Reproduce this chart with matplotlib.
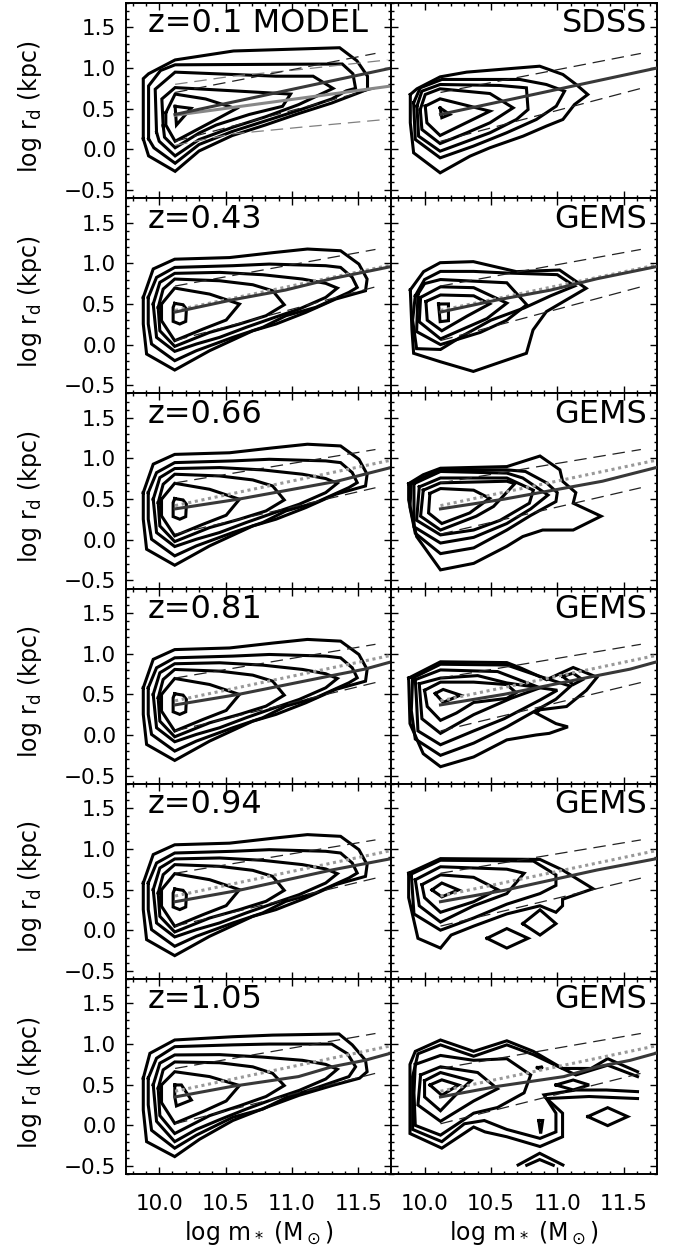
import matplotlib.pyplot as plt
from matplotlib.ticker import MultipleLocator

plt.rcParams['font.family'] = ['DejaVu Sans']
plt.rcParams['mathtext.fontset'] = 'dejavusans'

# redshift bins and panel labels
redshifts = ["0.1", "0.43", "0.66", "0.81", "0.94", "1.05"]
survey = ["SDSS", "GEMS", "GEMS", "GEMS", "GEMS", "GEMS"]

# model median size-mass relation in each bin
med_x = [
    [10.12, 11.75],
    [10.12, 10.55, 10.95, 11.30, 11.75],
    [10.12, 10.60, 11.34, 11.75],
    [10.12, 10.60, 11.30, 11.55, 11.75],
    [10.12, 10.60, 11.30, 11.75],
    [10.12, 10.55, 11.05, 11.30, 11.55, 11.75],
]
med_y = [
    [0.43, 1.00],
    [0.40, 0.55, 0.67, 0.81, 0.96],
    [0.38, 0.50, 0.72, 0.89],
    [0.37, 0.50, 0.73, 0.81, 0.90],
    [0.35, 0.49, 0.74, 0.88],
    [0.35, 0.48, 0.60, 0.72, 0.80, 0.89],
]
# 16th / 84th percentile envelopes
env_x = [10.12, 11.63]
env_hi = [[0.70, 1.18], [0.72, 1.17], [0.70, 1.11], [0.70, 1.115], [0.70, 1.11], [0.70, 1.13]]
env_lo = [[0.10, 0.75], [0.05, 0.71], [0.07, 0.64], [0.05, 0.645], [0.05, 0.64], [0.02, 0.64]]

# z=0.1 model median, repeated at higher redshift
ref_x = [10.12, 11.75]
ref_y = [0.42, 0.98]

# SDSS fit shown on the z=0.1 model panel
sdss_fit_x = [10.12, 11.75]
sdss_fit_y = [0.42, 0.78]
sdss_hi_x = [10.12, 10.55, 11.05, 11.72]
sdss_hi_y = [0.80, 0.90, 0.98, 1.10]
sdss_lo_x = [10.12, 10.55, 11.05, 11.72]
sdss_lo_y = [0.05, 0.19, 0.27, 0.37]

# number-density contours (closed loops), model z=0.1
model_z01 = [
    [(9.88, 0.13), (9.88, 0.87), (9.92, 0.93), (10.12, 1.10), (10.56, 1.21), (11.36, 1.25), (11.49, 1.09),
     (11.57, 0.90), (11.57, 0.74), (11.51, 0.70), (11.30, 0.57), (11.05, 0.44), (10.80, 0.30), (10.55, 0.17),
     (10.30, -0.02), (10.12, -0.27), (9.92, -0.08)],
    [(9.92, 0.13), (9.92, 0.78), (10.01, 0.97), (10.12, 1.04), (11.38, 1.05), (11.46, 0.93), (11.48, 0.75),
     (11.41, 0.72), (11.30, 0.62), (11.05, 0.48), (10.80, 0.35), (10.55, 0.22), (10.30, 0.06), (10.12, -0.17),
     (9.96, 0.02)],
    [(9.98, 0.21), (9.97, 0.74), (10.12, 0.95), (10.88, 0.90), (11.16, 0.90), (11.31, 0.75), (11.05, 0.55),
     (10.80, 0.40), (10.55, 0.27), (10.30, 0.12), (10.12, -0.08), (10.00, 0.10)],
    [(10.03, 0.29), (10.02, 0.62), (10.12, 0.76), (10.56, 0.72), (10.99, 0.68), (10.93, 0.53), (10.68, 0.43),
     (10.43, 0.30), (10.30, 0.20), (10.12, 0.02), (10.04, 0.15)],
    [(10.05, 0.45), (10.12, 0.68), (10.35, 0.62), (10.58, 0.50), (10.42, 0.36), (10.12, 0.10), (10.05, 0.30)],
    [(10.12, 0.53), (10.24, 0.505), (10.13, 0.30)],
]

# model contours for the intermediate-redshift bins
model_hiz = [
    [(9.88, 0.58), (9.955, 0.93), (10.117, 1.05), (10.53, 1.07), (10.855, 1.13), (11.117, 1.175),
     (11.367, 1.154), (11.505, 0.99), (11.567, 0.806), (11.555, 0.662), (11.33, 0.56), (11.105, 0.396),
     (10.88, 0.253), (10.705, 0.17), (10.38, -0.075), (10.117, -0.313), (9.905, -0.116), (9.88, 0.253)],
    [(9.9175, 0.58), (9.98, 0.826), (10.117, 0.949), (10.555, 0.97), (10.83, 0.99), (11.255, 0.97),
     (11.367, 0.949), (11.455, 0.826), (11.4925, 0.703), (11.43, 0.642), (11.18, 0.458), (10.955, 0.355),
     (10.78, 0.212), (10.555, 0.089), (10.28, -0.075), (10.117, -0.198), (9.9425, 0.007), (9.9175, 0.253)],
    [(9.955, 0.498), (10.005, 0.765), (10.117, 0.876), (10.455, 0.888), (10.78, 0.859), (11.08, 0.806),
     (11.255, 0.753), (11.3425, 0.695), (11.255, 0.58), (11.055, 0.437), (10.855, 0.326), (10.655, 0.212),
     (10.455, 0.089), (10.28, 0.007), (10.117, -0.083), (9.98, 0.089)],
    [(9.9925, 0.457), (10.03, 0.683), (10.117, 0.806), (10.455, 0.785), (10.705, 0.736), (10.855, 0.662),
     (10.9425, 0.49), (10.805, 0.355), (10.605, 0.253), (10.38, 0.15), (10.117, -0.022), (10.005, 0.17)],
    [(10.0175, 0.498), (10.117, 0.695), (10.38, 0.621), (10.605, 0.498), (10.505, 0.302), (10.33, 0.191),
     (10.117, 0.048), (10.0175, 0.294)],
    [(10.117, 0.507), (10.18, 0.49), (10.205, 0.437), (10.2, 0.285), (10.155, 0.253), (10.105, 0.285),
     (10.105, 0.457)],
]

# model contours, z=1.05 (flatter top, longer low-size tail)
model_z105 = [
    [(9.88, 0.58), (9.93, 0.886), (10.117, 1.05), (10.555, 1.09), (10.855, 1.11), (11.355, 1.124),
     (11.455, 0.99), (11.555, 0.80), (11.567, 0.66), (11.51, 0.58), (11.305, 0.49), (11.055, 0.37),
     (10.805, 0.22), (10.555, 0.06), (10.305, -0.17), (10.117, -0.384), (9.905, -0.20), (9.88, 0.19)],
    [(9.9175, 0.58), (9.98, 0.826), (10.117, 0.968), (10.555, 0.99), (10.83, 1.00), (11.30, 1.00),
     (11.42, 0.88), (11.48, 0.72), (11.43, 0.60), (11.18, 0.46), (10.955, 0.34),
     (10.78, 0.20), (10.555, 0.10), (10.28, -0.12), (10.117, -0.28), (9.9425, -0.06), (9.9175, 0.253)],
    [(9.955, 0.498), (10.005, 0.765), (10.117, 0.866), (10.455, 0.87), (10.78, 0.84), (11.08, 0.80),
     (11.255, 0.75), (11.3425, 0.69), (11.255, 0.57), (11.055, 0.43), (10.855, 0.32), (10.655, 0.20),
     (10.455, 0.07), (10.28, -0.05), (10.117, -0.20), (9.98, 0.05)],
    [(9.9925, 0.457), (10.03, 0.683), (10.117, 0.78), (10.455, 0.77), (10.705, 0.72), (10.855, 0.64),
     (10.9425, 0.49), (10.805, 0.355), (10.605, 0.24), (10.38, 0.12), (10.117, -0.10), (10.005, 0.12)],
    [(10.0175, 0.498), (10.117, 0.66), (10.38, 0.60), (10.605, 0.49), (10.505, 0.30), (10.33, 0.17),
     (10.117, 0.025), (10.0175, 0.28)],
    [(10.1175, 0.497), (10.1675, 0.497), (10.2425, 0.312), (10.13, 0.239), (10.1175, 0.35)],
]

sdss = [
    [(9.8925, 0.675), (9.9425, 0.745), (10.1175, 0.892), (10.3175, 0.95), (10.8675, 1.023), (11.0425, 0.921),
     (11.1425, 0.798), (11.23, 0.675), (11.13, 0.552), (11.0425, 0.368), (10.9175, 0.286), (10.7425, 0.163),
     (10.4925, 0.02), (10.3425, -0.083), (10.1175, -0.288), (9.9175, -0.042), (9.8925, 0.327)],
    [(9.9175, 0.573), (9.9675, 0.757), (10.13, 0.86), (10.7175, 0.86), (10.9175, 0.798), (11.055, 0.716),
     (10.9925, 0.532), (10.8425, 0.368), (10.6175, 0.204), (10.3675, 0.04), (10.1175, -0.104), (9.93, 0.122)],
    [(9.9425, 0.532), (9.98, 0.716), (10.117, 0.798), (10.5675, 0.786), (10.7675, 0.757), (10.78, 0.49),
     (10.6925, 0.368), (10.4925, 0.204), (10.117, -0.022), (9.955, 0.163)],
    [(9.9675, 0.49), (10.005, 0.675), (10.117, 0.745), (10.4925, 0.687), (10.6675, 0.511), (10.4925, 0.327),
     (10.3175, 0.204), (10.117, 0.072), (9.98, 0.245)],
    [(10.005, 0.532), (10.117, 0.622), (10.4925, 0.47), (10.117, 0.171), (10.0175, 0.327)],
    [(10.117, 0.51), (10.19, 0.43), (10.13, 0.39)],
]

gems_z043 = [
    [(9.8925, 0.672), (9.9925, 0.897), (10.1175, 1.007), (10.3675, 1.02), (10.6925, 0.897), (11.0175, 0.917),
     (11.2175, 0.692), (10.9175, 0.405), (10.8175, 0.18), (10.7675, -0.107), (10.60, -0.20), (10.3675, -0.33),
     (10.1175, -0.21), (9.9175, -0.107), (9.905, 0.18)],
    [(9.93, 0.60), (10.0, 0.80), (10.12, 0.90), (10.37, 0.90), (10.62, 0.88), (11.0, 0.86), (11.13, 0.72),
     (10.95, 0.60), (10.75, 0.45), (10.5, 0.30), (10.3, 0.12), (10.12, -0.06), (9.94, -0.05), (9.91, 0.30)],
    [(9.95, 0.62), (10.0, 0.75), (10.12, 0.80), (10.62, 0.76), (10.77, 0.49), (10.62, 0.30), (10.42, 0.15),
     (10.12, 0.00), (9.94, 0.16)],
    [(9.97, 0.58), (10.12, 0.71), (10.37, 0.70), (10.62, 0.51), (10.47, 0.32), (10.12, 0.07), (9.96, 0.28)],
    [(10.01, 0.53), (10.12, 0.61), (10.37, 0.60), (10.49, 0.50), (10.32, 0.35), (10.13, 0.17), (10.02, 0.30)],
    [(10.105, 0.499), (10.18, 0.50), (10.18, 0.294), (10.1175, 0.282)],
]

gems_z066 = [
    [(9.88, 0.69), (9.99, 0.80), (10.12, 0.88), (10.62, 0.90), (10.87, 1.03), (11.02, 0.86), (11.04, 0.72),
     (11.14, 0.58), (11.12, 0.45), (11.33, 0.29), (11.12, 0.12), (10.89, 0.12), (10.74, 0.04), (10.62, -0.08),
     (10.37, -0.29), (10.12, -0.37), (9.94, 0.04), (9.88, 0.49)],
    [(9.90, 0.70), (10.12, 0.86), (10.62, 0.86), (10.76, 0.84), (10.92, 0.70), (11.0, 0.58),
     (10.99, 0.47), (10.80, 0.30), (10.62, 0.12), (10.37, -0.10), (10.12, -0.17),
     (9.93, 0.08), (9.89, 0.40)],
    [(9.92, 0.69), (10.12, 0.84), (10.62, 0.82), (10.74, 0.76), (10.93, 0.55), (10.80, 0.38), (10.62, 0.20),
     (10.37, 0.03), (10.12, -0.04), (9.92, 0.16)],
    [(9.96, 0.65), (10.12, 0.76), (10.62, 0.76), (10.82, 0.61), (10.79, 0.45), (10.57, 0.24), (10.37, 0.12),
     (10.12, 0.06), (9.94, 0.24)],
    [(9.99, 0.61), (10.12, 0.70), (10.62, 0.72), (10.68, 0.69), (10.52, 0.41), (10.39, 0.29), (10.12, 0.12),
     (9.97, 0.29)],
    [(10.04, 0.57), (10.12, 0.63), (10.37, 0.61), (10.49, 0.51), (10.34, 0.33), (10.13, 0.20), (10.03, 0.33)],
]

gems_z081 = [
    [(9.88, 0.70), (10.12, 0.90), (10.62, 0.89), (10.73, 0.82), (10.92, 0.68), (11.12, 0.83), (11.30, 0.71),
     (11.22, 0.55), (11.07, 0.35), (10.87, 0.31), (10.84, 0.27), (10.99, 0.14), (11.08, 0.10), (10.94, 0.02),
     (10.84, 0.0), (10.62, -0.06), (10.37, -0.27), (10.12, -0.39), (9.99, -0.23), (9.89, 0.14)],
    [(9.91, 0.70), (10.12, 0.87), (10.62, 0.86), (10.87, 0.72), (11.1, 0.60), (10.99, 0.44), (10.87, 0.33),
     (10.62, 0.10), (10.37, -0.10), (10.12, -0.25), (9.93, -0.05), (9.9, 0.30)],
    [(9.93, 0.68), (10.12, 0.80), (10.55, 0.78), (10.87, 0.58), (11.0, 0.55), (10.87, 0.43), (10.6, 0.20),
     (10.37, 0.05), (10.12, -0.12), (9.95, 0.05), (9.94, 0.40)],
    [(9.96, 0.63), (10.12, 0.70), (10.4, 0.73), (10.62, 0.64), (10.87, 0.58), (10.65, 0.45), (10.37, 0.25),
     (10.12, 0.02), (9.98, 0.2)],
    [(10.0, 0.55), (10.12, 0.65), (10.37, 0.65), (10.62, 0.62), (10.69, 0.52), (10.62, 0.45), (10.37, 0.40),
     (10.24, 0.27), (10.12, 0.18), (10.02, 0.35)],
    [(10.08, 0.51), (10.14, 0.56), (10.27, 0.49), (10.14, 0.40)],
    [(11.04, 0.72), (11.12, 0.76), (11.19, 0.68), (11.12, 0.62)],
]

gems_z094 = [
    [(9.88, 0.70), (10.12, 0.88), (10.87, 0.87), (11.04, 0.74), (11.27, 0.51), (11.04, 0.38), (11.04, 0.30),
     (10.99, 0.22), (10.87, 0.30), (10.62, 0.20), (10.37, 0.05), (10.2, -0.06), (10.12, -0.22), (9.95, -0.10),
     (9.88, 0.40)],
    [(9.90, 0.69), (10.12, 0.86), (10.82, 0.85), (10.99, 0.68), (10.99, 0.55), (10.87, 0.45), (10.62, 0.32),
     (10.37, 0.15), (10.12, 0.00), (9.92, 0.20)],
    [(9.93, 0.62), (10.12, 0.78), (10.62, 0.75), (10.75, 0.70), (10.62, 0.45), (10.37, 0.30), (10.12, 0.10),
     (9.96, 0.30)],
    [(9.98, 0.56), (10.12, 0.68), (10.37, 0.65), (10.55, 0.50), (10.37, 0.35), (10.12, 0.22), (10.0, 0.40)],
    [(10.055, 0.495), (10.13, 0.58), (10.255, 0.495), (10.13, 0.41)],
    [(10.47, -0.10), (10.62, 0.02), (10.78, -0.10), (10.62, -0.22)],
    [(10.74, 0.08), (10.87, 0.25), (10.99, 0.08), (10.87, -0.06)],
]

gems_z105 = [
    [(9.93, 0.75), (10.12, 0.86), (10.37, 0.80), (10.62, 0.82), (10.80, 0.62), (10.75, 0.40), (10.55, 0.22),
     (10.37, 0.15), (10.12, -0.12), (9.93, 0.00), (9.92, 0.40)],
    [(9.97, 0.62), (10.12, 0.72), (10.40, 0.65), (10.55, 0.45), (10.37, 0.30), (10.12, 0.05), (9.95, 0.25)],
    [(10.0, 0.55), (10.12, 0.65), (10.35, 0.55), (10.25, 0.40), (10.12, 0.18), (10.0, 0.35)],
    [(10.04, 0.497), (10.13, 0.56), (10.255, 0.497), (10.13, 0.37)],
    [(10.99, 0.497), (11.12, 0.558), (11.24, 0.497), (11.12, 0.436)],
    [(11.23, 0.108), (11.38, 0.218), (11.53, 0.108), (11.38, -0.003)],
    [(10.86, 0.06), (10.89, 0.06), (10.875, -0.10)],
    [(10.85, 0.71), (10.89, 0.72), (10.87, 0.69)],
]
# contours running into the edge of the binned region
gems_z105_open = [
    [(11.605, 0.66), (11.52, 0.72), (11.38, 0.82), (11.255, 0.70), (11.04, 0.70), (10.82, 0.91), (10.62, 1.04),
     (10.37, 0.91), (10.12, 1.05), (9.93, 0.91), (9.89, 0.75), (9.89, -0.10), (10.13, -0.28), (10.25, -0.15),
     (10.37, -0.02), (10.455, -0.08), (10.62, -0.14), (10.87, -0.26), (11.04, -0.14), (11.04, 0.15),
     (10.92, 0.33), (11.24, 0.355), (11.605, 0.33)],
    [(11.605, 0.60), (11.38, 0.74), (11.14, 0.62), (10.82, 0.87), (10.62, 0.99), (10.37, 0.85), (10.12, 0.99),
     (9.95, 0.88), (9.91, 0.60), (9.91, -0.05), (10.13, -0.20), (10.30, 0.02), (10.45, 0.06), (10.62, -0.05),
     (10.87, -0.16), (10.99, -0.08), (10.99, 0.15), (10.90, 0.375), (11.14, 0.435), (11.37, 0.435),
     (11.605, 0.415)],
    [(10.705, -0.487), (10.8675, -0.343), (11.0425, -0.487)],
    [(10.77, -0.49), (10.8675, -0.42), (10.97, -0.49)],
]

left_contours = [model_z01, model_hiz, model_hiz, model_hiz, model_hiz, model_z105]
right_contours = [sdss, gems_z043, gems_z066, gems_z081, gems_z094, gems_z105]
right_open = [[], [], [], [], [], gems_z105_open]

fig, axes = plt.subplots(6, 2, figsize=(6.75, 12.49), dpi=100, sharex=True, sharey=True)
fig.subplots_adjust(left=0.1867, right=0.973, top=0.9976, bottom=0.0599, hspace=0, wspace=0)


def draw_loops(ax, loops, closed=True):
    for c in loops:
        xs = [p[0] for p in c]
        ys = [p[1] for p in c]
        if closed:
            xs.append(xs[0])
            ys.append(ys[0])
        ax.plot(xs, ys, color='black', lw=2.2, solid_joinstyle='miter', zorder=3)


dash = (0, (10, 5.5))
for row in range(6):
    for col in range(2):
        ax = axes[row, col]
        draw_loops(ax, left_contours[row] if col == 0 else right_contours[row])
        if col == 1:
            draw_loops(ax, right_open[row], closed=False)

        if row > 0:
            ax.plot(ref_x, ref_y, color='#999999', lw=2.2, linestyle=(0, (1, 1.2)), dash_capstyle='butt', zorder=4)
        if row == 0 and col == 0:
            ax.plot(sdss_fit_x, sdss_fit_y, color='#888888', lw=2.2, zorder=5)
            ax.plot(sdss_hi_x, sdss_hi_y, color='#808080', lw=0.9, linestyle=dash, zorder=4)
            ax.plot(sdss_lo_x, sdss_lo_y, color='#808080', lw=0.9, linestyle=dash, zorder=4)
        ax.plot(med_x[row], med_y[row], color='#383838', lw=2.2, zorder=5)
        ax.plot(env_x, env_hi[row], color='#222222', lw=0.9, linestyle=dash, zorder=4)
        ax.plot(env_x, env_lo[row], color='#222222', lw=0.9, linestyle=dash, zorder=4)

        ax.set_xlim(9.75, 11.75)
        ax.set_ylim(-0.6, 1.8)
        ax.xaxis.set_major_locator(MultipleLocator(0.5))
        ax.xaxis.set_minor_locator(MultipleLocator(0.1))
        ax.yaxis.set_major_locator(MultipleLocator(0.5))
        ax.yaxis.set_minor_locator(MultipleLocator(0.1))
        ax.tick_params(which='both', direction='in', top=True, right=True, width=1.0, labelsize=15.5)
        ax.tick_params(which='major', length=5)
        ax.tick_params(which='minor', length=2.5)
        ax.tick_params(axis='y', pad=7)
        ax.tick_params(axis='x', pad=14)
        for s in ax.spines.values():
            s.set_linewidth(1.4)

        if col == 0:
            label = "z=" + redshifts[row] + (" MODEL" if row == 0 else "")
            ax.text(0.083, 0.972, label, transform=ax.transAxes, ha='left', va='top', fontsize=23)
            ax.set_ylabel(r"log r$_{\rm d}$ (kpc)", fontsize=17)
            ax.yaxis.set_label_coords(-0.31, 0.47)
        else:
            ax.text(0.964, 0.972, survey[row], transform=ax.transAxes, ha='right', va='top', fontsize=23)

axes[0, 0].set_yticks([-0.5, 0.0, 0.5, 1.0, 1.5])
axes[-1, 0].set_xticks([10.0, 10.5, 11.0, 11.5])

fig.text(0.383, 0.0128, r"log m$_*$ (M$_\odot$)", ha='center', va='center', fontsize=17)
fig.text(0.776, 0.0128, r"log m$_*$ (M$_\odot$)", ha='center', va='center', fontsize=17)

fig.savefig("out.png", dpi=100)
